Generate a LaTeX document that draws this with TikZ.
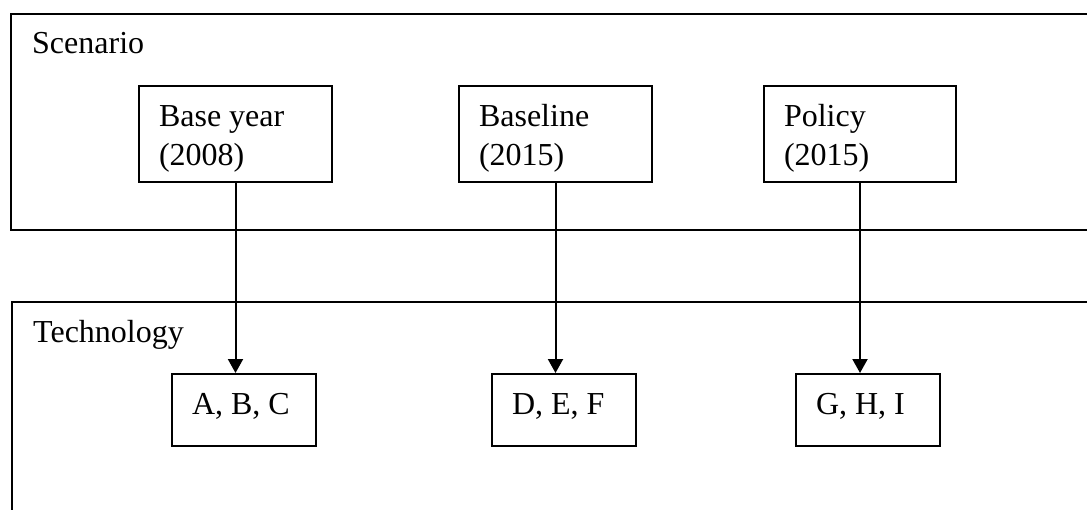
\documentclass[tikz,border=0pt]{standalone}
\usepackage{fontspec}
\setmainfont{Liberation Serif}
\usetikzlibrary{arrows.meta}
\newcommand\diagfont{\fontsize{32}{39}\selectfont}
\begin{document}
\begin{tikzpicture}[x=1pt,y=-1pt,
  txt/.style={font=\diagfont},
  frame/.style={draw,line width=2pt,anchor=north west,inner sep=0pt},
  upbox/.style={txt,draw,line width=2pt,anchor=north west,inner xsep=20pt,inner ysep=0pt,
    minimum width=193pt,minimum height=96pt,text width=153pt,align=flush left},
  lowbox/.style={txt,draw,line width=2pt,anchor=north west,inner xsep=20pt,inner ysep=15pt,
    minimum width=144pt,text width=104pt,align=flush left,text height=25pt,text depth=17pt},
  lbl/.style={txt,anchor=base west,inner sep=0pt},
  arr/.style={line width=2pt,-{Triangle[length=14pt,width=15pt]}}]
\useasboundingbox (0,0) rectangle (1087,509);
\fill[white] (0,0) rectangle (1087,509);
\begin{scope}
\clip (0,0) rectangle (1087,509);
\node[frame,minimum width=1100pt,minimum height=216pt] (scen) at (10,13) {};
\node[frame,minimum width=1100pt,minimum height=260pt] (tech) at (11,301) {};
\end{scope}
\node[lbl] (scenlbl) at (32,53) {Scenario};
\node[lbl] (techlbl) at (33,342) {Technology};
\node[upbox] (base) at (138,85) {\rule{0pt}{30pt}Base year\\(2008)\rule[-7pt]{0pt}{7pt}};
\node[upbox] (bline) at (458,85) {\rule{0pt}{30pt}Baseline\\(2015)\rule[-7pt]{0pt}{7pt}};
\node[upbox,minimum width=192pt,text width=152pt] (pol) at (763,85) {\rule{0pt}{30pt}Policy\\(2015)\rule[-7pt]{0pt}{7pt}};
\node[lowbox] (abc) at (171,373) {A, B, C};
\node[lowbox] (def) at (491,373) {D, E, F};
\node[lowbox] (ghi) at (795,373) {G, H, I};
\draw[arr] (base.south) -- (base.south |- abc.north);
\draw[arr] (bline.south) -- (bline.south |- def.north);
\draw[arr] (pol.south) -- (pol.south |- ghi.north);
\end{tikzpicture}
\end{document}
